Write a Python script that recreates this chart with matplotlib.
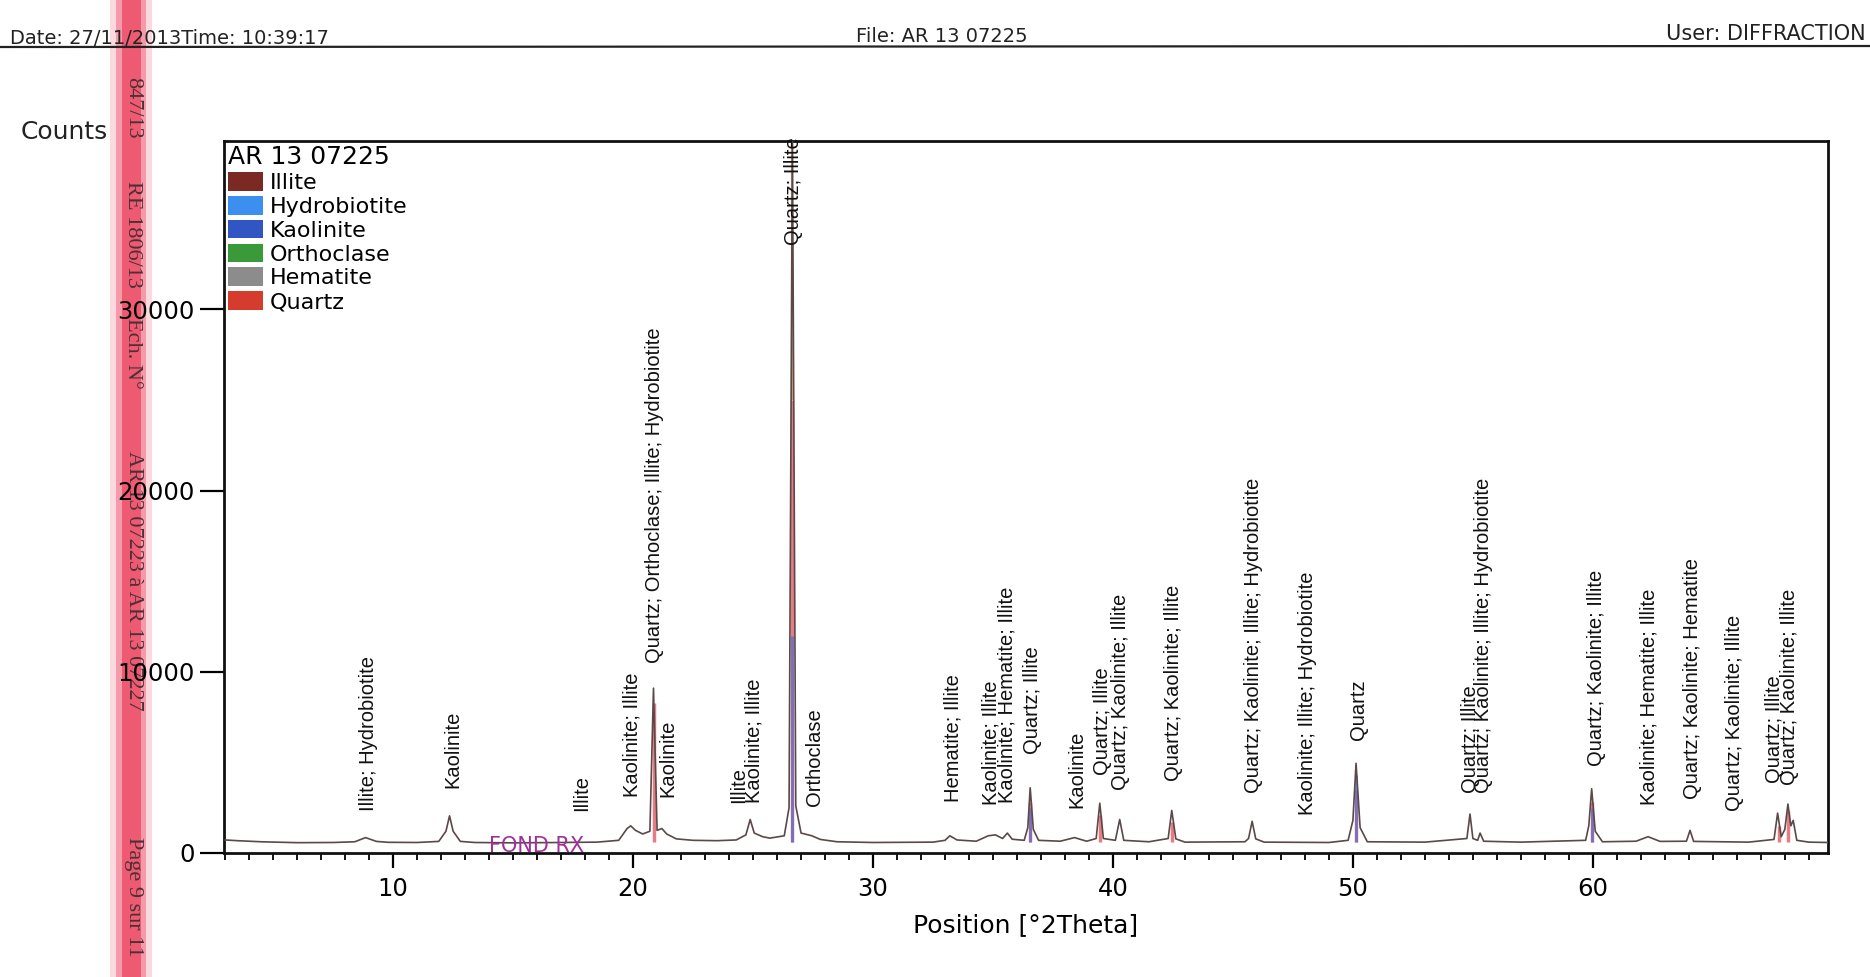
import matplotlib
matplotlib.use("Agg")
import matplotlib.pyplot as plt
from matplotlib.patches import Patch, Rectangle
from matplotlib.lines import Line2D
from matplotlib.ticker import MultipleLocator

two_theta = [3.0, 3.5, 4.5, 6.0, 7.5, 8.4, 8.85, 9.3, 9.8, 11.0, 11.9, 12.2, 12.35, 12.5,
             12.8, 13.4, 15.0, 17.0, 18.5, 19.4, 19.75, 19.9, 20.1, 20.4, 20.7, 20.85,
             21.0, 21.2, 21.4, 21.8, 22.5, 23.5, 24.3, 24.7, 24.88, 25.05, 25.4, 25.7,
             26.3, 26.5, 26.64, 26.78, 27.0, 27.45, 27.8, 28.5, 30.0, 32.5, 33.0, 33.2,
             33.5, 34.3, 34.8, 35.1, 35.4, 35.6, 35.8, 36.3, 36.45, 36.55, 36.68, 36.9,
             37.8, 38.4, 38.9, 39.3, 39.45, 39.6, 40.1, 40.28, 40.45, 41.5, 42.3, 42.45,
             42.62, 43.0, 45.5, 45.65, 45.8, 45.95, 46.3, 49.0, 49.8, 50.0, 50.13, 50.3,
             50.6, 53.0, 54.75, 54.88, 55.0, 55.2, 55.3, 55.45, 57.0, 59.7, 59.83, 59.95,
             60.1, 60.4, 61.8, 62.3, 62.8, 63.9, 64.05, 64.2, 66.5, 67.55, 67.7, 67.85,
             68.0, 68.13, 68.25, 68.35, 68.5, 69.0, 69.8]
counts = [720, 680, 620, 570, 580, 620, 850, 640, 590, 580, 640, 1200, 2050, 1200,
          640, 580, 560, 580, 600, 700, 1350, 1500, 1250, 1050, 1200, 9100,
          1250, 1350, 1050, 780, 700, 680, 720, 1000, 1850, 1100, 900, 820,
          950, 2500, 39300, 2600, 1100, 950, 750, 620, 580, 600, 700, 950,
          720, 650, 950, 1000, 800, 1100, 760, 700, 1400, 3600, 1300, 700,
          650, 850, 650, 800, 2750, 800, 700, 1850, 700, 620, 800, 2350,
          780, 600, 620, 800, 1750, 780, 600, 580, 700, 1800, 4950, 1400,
          620, 600, 800, 2150, 800, 700, 1100, 650, 600, 700, 1500, 3550,
          1200, 620, 650, 900, 640, 650, 1250, 640, 600, 750, 2200, 900,
          1300, 2700, 1500, 1800, 700, 600, 580]

# coloured reference sticks seen on the main peaks
quartz_x = [20.86, 26.64, 36.54, 39.47, 42.45, 50.14, 59.96, 67.74, 68.14]
quartz_y = [8300, 25000, 2800, 2100, 1700, 3500, 2800, 1500, 2300]
kaol_x = [26.64, 36.55, 50.14, 59.96]
kaol_y = [12000, 2500, 4300, 2500]

phases = ["Illite", "Hydrobiotite", "Kaolinite", "Orthoclase", "Hematite", "Quartz"]
phase_colors = ["#7a2a22", "#3d8fef", "#3156c4", "#3a9a3a", "#8c8c8c", "#d63c2e"]

# peak labels: position, bottom of the label (counts), text
label_x = [8.96, 12.48, 17.85, 19.94, 20.88, 21.43, 24.38, 25.02, 26.69, 27.54,
           33.35, 34.92, 35.6, 36.63, 38.5, 39.56, 40.3, 42.54, 45.87, 48.1,
           50.24, 54.88, 55.45, 60.17, 62.36, 64.15, 65.89, 67.56, 68.2]
label_y = [2300, 3600, 2300, 3100, 10460, 3100, 2760, 2760, 33550, 2570,
           2830, 2630, 2760, 5460, 2500, 4280, 3490, 3950, 3290, 2100,
           6250, 3290, 3290, 4800, 2630, 2960, 2300, 3880, 3750]
label_txt = ["Illite; Hydrobiotite", "Kaolinite", "Illite", "Kaolinite; Illite",
             "Quartz; Orthoclase; Illite; Hydrobiotite", "Kaolinite", "Illite",
             "Kaolinite; Illite", "Quartz; Illite", "Orthoclase", "Hematite; Illite",
             "Kaolinite; Illite", "Kaolinite; Hematite; Illite", "Quartz; Illite",
             "Kaolinite", "Quartz; Illite", "Quartz; Kaolinite; Illite",
             "Quartz; Kaolinite; Illite", "Quartz; Kaolinite; Illite; Hydrobiotite",
             "Kaolinite; Illite; Hydrobiotite", "Quartz", "Quartz; Illite",
             "Quartz; Kaolinite; Illite; Hydrobiotite", "Quartz; Kaolinite; Illite",
             "Kaolinite; Hematite; Illite", "Quartz; Kaolinite; Hematite",
             "Quartz; Kaolinite; Illite", "Quartz; Illite", "Quartz; Kaolinite; Illite"]

stamp_y = [0.11, 0.24, 0.362, 0.595, 0.918]
stamp_txt = ["847/13", "RE 1806/13", "Ech. N°", "AR 13 07223 à AR 13 07227", "Page 9 sur 11"]

W, H = 1870, 977
fig = plt.figure(figsize=(W / 100, H / 100), dpi=100)
fig.patch.set_facecolor("white")

# pink highlighter stripe from the scan
for x0, w, c in [(110, 42, "#fbd9de"), (116, 30, "#f59aa8"), (122, 19, "#ee5a72")]:
    fig.patches.append(Rectangle((x0 / W, 0), w / W, 1, transform=fig.transFigure,
                                 facecolor=c, edgecolor="none", zorder=-2))
for yy, s in zip(stamp_y, stamp_txt):
    fig.text(133 / W, 1 - yy, s, rotation=-90, ha="center", va="center",
             fontsize=16, family="Liberation Serif", color="#4a3035", zorder=-1)

# header
fig.text(10 / W, 1 - 38 / H, "Date: 27/11/2013Time: 10:39:17", fontsize=14,
         va="center", ha="left", color="#222222")
fig.text(942 / W, 1 - 36 / H, "File: AR 13 07225", fontsize=14, va="center",
         ha="center", color="#222222")
fig.text(1866 / W, 1 - 34 / H, "User: DIFFRACTION", fontsize=15, va="center",
         ha="right", color="#222222")
fig.add_artist(Line2D([0, 1], [1 - 47 / H, 1 - 46 / H], transform=fig.transFigure,
                      color="#222222", lw=1.6))
fig.text(21 / W, 1 - 132 / H, "Counts", fontsize=18, va="center", ha="left",
         color="#222222")

ax = fig.add_axes([224 / W, (H - 853) / H, (1828 - 224) / W, (853 - 141) / H])
ax.set_xlim(2.95, 69.8)
ax.set_ylim(0, 39300)

ax.plot(two_theta, counts, color="#5b4848", lw=1.2, zorder=3)
ax.vlines(quartz_x, 600, quartz_y, color="#e0505a", lw=2.5, alpha=0.75, zorder=2)
ax.vlines(kaol_x, 600, kaol_y, color="#5a6fc8", lw=2.0, alpha=0.8, zorder=2)
ax.vlines([26.64], 25000, 39300, color="#d8a878", lw=1.6, zorder=2)

for x, y, s in zip(label_x, label_y, label_txt):
    ax.text(x, y, s, rotation=90, ha="center", va="bottom", fontsize=14.5,
            family="Liberation Sans", color="#111111", clip_on=False)

ax.text(15.96, 380, "FOND RX", ha="center", va="center", fontsize=15,
        color="#a0309a", zorder=4)

handles = [Patch(facecolor=c, edgecolor="none") for c in phase_colors]
leg = ax.legend(handles, phases, title="AR 13 07225", loc="upper left",
                bbox_to_anchor=(0, 1), frameon=False, fontsize=16, title_fontsize=18,
                handlelength=1.55, handleheight=0.9, handletextpad=0.3,
                labelspacing=0.13, borderpad=0.1, borderaxespad=0.1,
                alignment="left")

ax.set_xticks([10, 20, 30, 40, 50, 60])
ax.xaxis.set_minor_locator(MultipleLocator(1))
ax.set_yticks([0, 10000, 20000, 30000])
ax.tick_params(axis="x", which="major", length=11, width=1.6, labelsize=17.5, pad=6,
               direction="out")
ax.tick_params(axis="x", which="minor", length=5, width=1.3, direction="out")
ax.tick_params(axis="y", which="major", length=17, width=1.6, labelsize=17.5, pad=4,
               direction="out")
for sp in ax.spines.values():
    sp.set_linewidth(2)
    sp.set_color("#111111")

ax.set_xlabel("Position [°2Theta]", fontsize=18, labelpad=9)

fig.savefig("out.png", dpi=100)
